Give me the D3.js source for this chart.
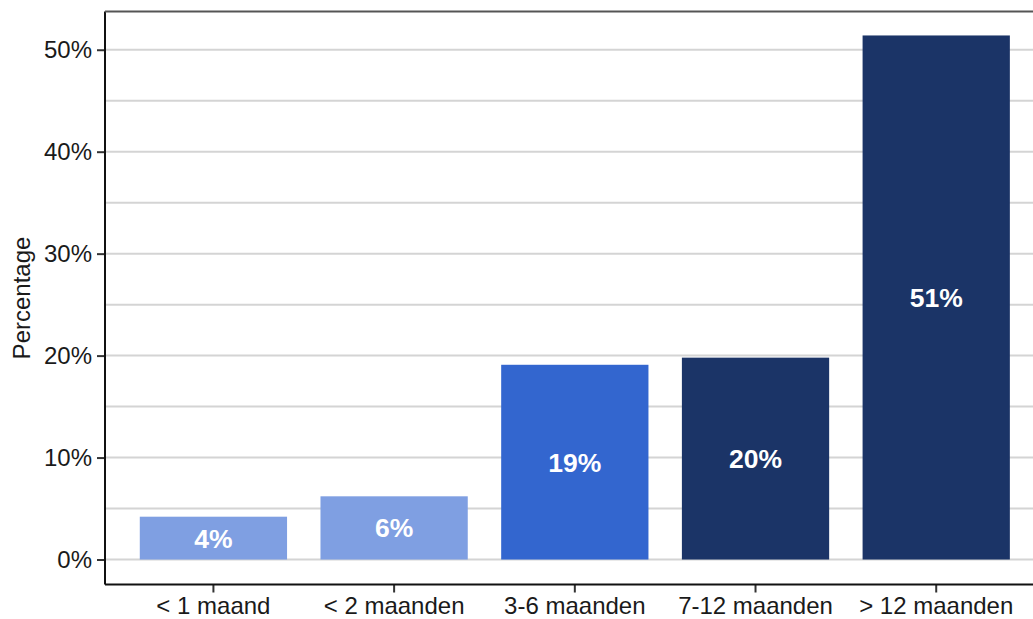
<!DOCTYPE html>
<html><head><meta charset="utf-8">
<script src="https://cdn.jsdelivr.net/npm/d3@7"></script>
<style>body{margin:0;background:#fff;overflow:hidden}svg{display:block}</style>
</head><body><svg id="c" width="1033" height="619"></svg>
<script>
const categories = ["< 1 maand", "< 2 maanden", "3-6 maanden", "7-12 maanden", "> 12 maanden"];
const values = [4.2, 6.2, 19.1, 19.8, 51.4];
const labels = ["4%", "6%", "19%", "20%", "51%"];
const colors = ["#7f9fe2", "#7f9fe2", "#3366cf", "#1b3467", "#1b3467"];
const yTicks = [0, 10, 20, 30, 40, 50];
const yGrid = [0, 5, 10, 15, 20, 25, 30, 35, 40, 45, 50];

(function () {
const svg = d3.select("#c");
const mLeft = 105, mBottom = 584.5, mTop = 11.5;
const step = 180.7;
const x0 = mLeft + 0.6 * step - step / 2;
const x = d3.scaleBand().domain(categories)
  .range([x0, x0 + step * categories.length])
  .paddingInner(0.185).paddingOuter(0.0925);
const y = d3.scaleLinear().domain([-2.45, 53.75]).range([mBottom, mTop]);

svg.append("g").selectAll("line").data(yGrid).join("line")
  .attr("x1", mLeft).attr("x2", 1033)
  .attr("y1", d => y(d)).attr("y2", d => y(d))
  .attr("stroke", "#d4d4d4").attr("stroke-width", 2);

svg.append("g").selectAll("rect").data(values).join("rect")
  .attr("x", (d, i) => x(categories[i]))
  .attr("width", x.bandwidth())
  .attr("y", d => y(d))
  .attr("height", d => y(0) - y(d))
  .attr("fill", (d, i) => colors[i]);

svg.append("g").selectAll("text").data(values).join("text")
  .attr("x", (d, i) => x(categories[i]) + x.bandwidth() / 2)
  .attr("y", d => (y(d) + y(0)) / 2)
  .attr("dy", "0.36em")
  .attr("text-anchor", "middle")
  .attr("fill", "#fff")
  .attr("font-family", "Liberation Sans, Arial, sans-serif")
  .attr("font-weight", "bold")
  .attr("font-size", 26.5)
  .text((d, i) => labels[i]);

const yAxis = d3.axisLeft(y).tickValues(yTicks).tickFormat(d => d + "%").tickSize(8).tickPadding(5);
const gy = svg.append("g").attr("transform", `translate(${mLeft},0)`).call(yAxis);
const xAxis = d3.axisBottom(x).tickSize(8).tickPadding(4);
const gx = svg.append("g").attr("transform", `translate(0,${mBottom})`).call(xAxis);
[gy, gx].forEach(g => {
  g.select(".domain").remove();
  g.selectAll("line").attr("stroke", "#333").attr("stroke-width", 2);
  g.selectAll("text").attr("fill", "#1a1a1a")
    .attr("font-family", "Liberation Sans, Arial, sans-serif").attr("font-size", 24);
});
svg.append("line").attr("x1", mLeft).attr("x2", mLeft).attr("y1", mTop).attr("y2", mBottom)
  .attr("stroke", "#111").attr("stroke-width", 2);
svg.append("line").attr("x1", mLeft).attr("x2", 1033).attr("y1", mBottom).attr("y2", mBottom)
  .attr("stroke", "#111").attr("stroke-width", 2);
svg.append("line").attr("x1", mLeft).attr("x2", 1033).attr("y1", mTop).attr("y2", mTop)
  .attr("stroke", "#555").attr("stroke-width", 2);

svg.append("text").attr("transform", `translate(30,${(mTop + mBottom) / 2}) rotate(-90)`)
  .attr("text-anchor", "middle")
  .attr("font-family", "Liberation Sans, Arial, sans-serif").attr("font-size", 24)
  .attr("fill", "#1a1a1a").text("Percentage");
})();
</script></body></html>
